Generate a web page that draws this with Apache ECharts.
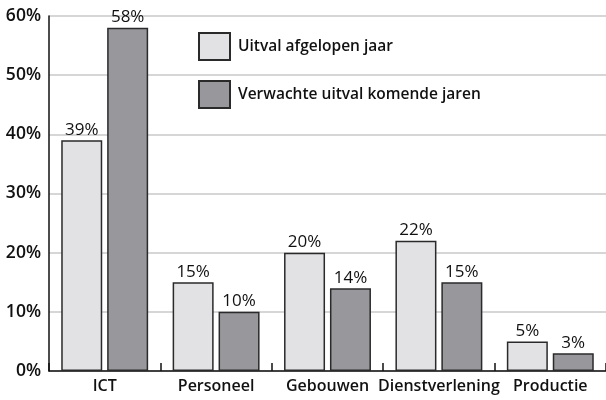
<!DOCTYPE html>
<html>
<head>
<meta charset="utf-8">
<script src="https://cdn.jsdelivr.net/npm/echarts@6/dist/echarts.min.js"></script>
<style>
  html, body { margin: 0; padding: 0; background: #fff; }
  #chart { width: 606px; height: 400px; }
</style>
</head>
<body>
<div id="chart"></div>
<script>
const categories = ['ICT', 'Personeel', 'Gebouwen', 'Dienstverlening', 'Productie'];
const afgelopenJaar = [39, 15, 20, 22, 5];
const komendeJaren = [58, 10, 14, 15, 3];
const seriesNames = ['Uitval afgelopen jaar', 'Verwachte uitval komende jaren'];

const fontFamily = '"Open Sans", "DejaVu Sans", sans-serif';

const chart = echarts.init(document.getElementById('chart'));

function barSeries(name, data, color) {
  return {
    name: name,
    type: 'bar',
    data: data,
    barWidth: 41,
    barGap: '12%',
    itemStyle: { color: color, borderColor: '#2a2a2a', borderWidth: 1.5 },
    label: {
      show: true,
      position: 'top',
      distance: 2,
      formatter: '{c}%',
      color: '#111',
      fontSize: 17,
      fontFamily: fontFamily
    }
  };
}

const option = {
  animation: false,
  backgroundColor: '#fff',
  grid: { left: 49, top: 16, width: 560, height: 355 },
  legend: {
    orient: 'vertical',
    left: 193,
    top: 27,
    itemWidth: 31,
    itemHeight: 27,
    itemGap: 19,
    icon: 'rect',
    textStyle: { fontSize: 15.5, fontWeight: 600, color: '#111', fontFamily: fontFamily, padding: [0, 0, 0, 3] },
    data: seriesNames
  },
  xAxis: {
    type: 'category',
    data: categories,
    axisLine: { lineStyle: { color: '#111', width: 1.5 } },
    axisTick: { show: true, inside: true, length: 8, lineStyle: { color: '#111', width: 1.5 } },
    axisLabel: { interval: 0, fontSize: 16, fontWeight: 600, color: '#111', fontFamily: fontFamily, margin: 7 }
  },
  yAxis: {
    type: 'value',
    min: 0,
    max: 60,
    interval: 10,
    axisLine: { show: true, lineStyle: { color: '#111', width: 1.5 } },
    axisTick: { show: false },
    splitLine: { lineStyle: { color: '#c8c8c8', width: 1.5 } },
    axisLabel: { formatter: '{value}%', fontSize: 17.5, fontWeight: 600, color: '#111', fontFamily: fontFamily, margin: 8 }
  },
  series: [
    barSeries(seriesNames[0], afgelopenJaar, '#e2e2e4'),
    barSeries(seriesNames[1], komendeJaren, '#98979c')
  ]
};

chart.setOption(option);
</script>
</body>
</html>
